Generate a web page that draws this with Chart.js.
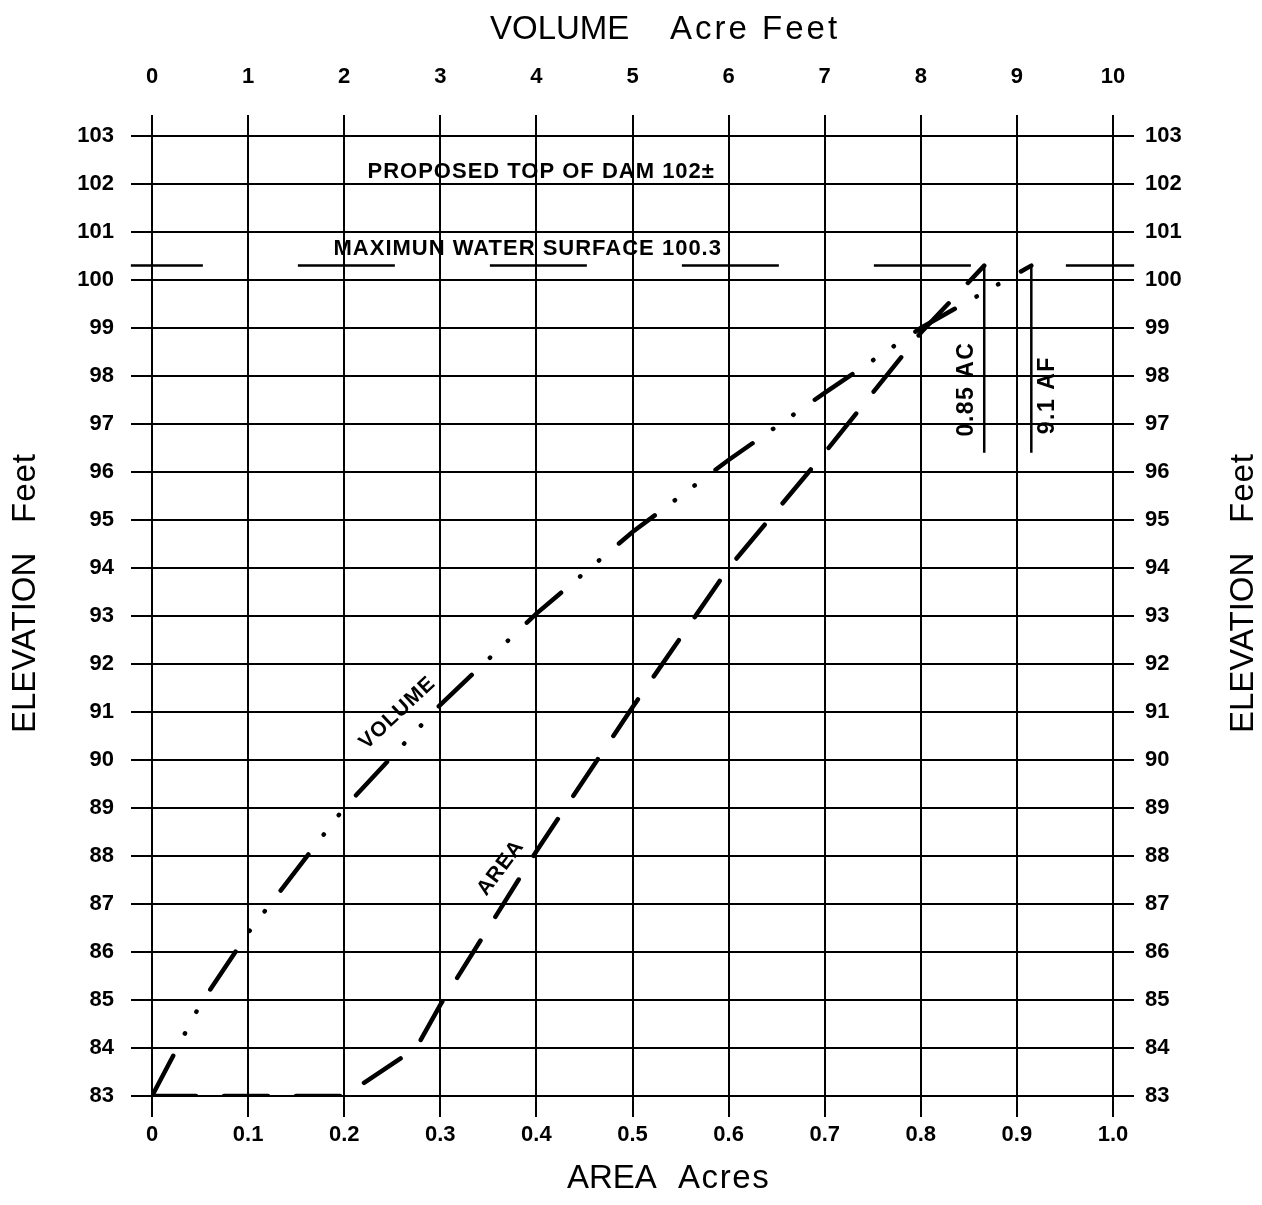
<!DOCTYPE html>
<html>
<head>
<meta charset="utf-8">
<title>Elevation - Area - Volume</title>
<script src="https://cdn.jsdelivr.net/npm/chart.js@4.4.1/dist/chart.umd.min.js"></script>
<style>
  html, body { margin: 0; padding: 0; background: #fff; }
  #wrap { width: 1262px; height: 1205px; position: relative; }
</style>
</head>
<body>
<div id="wrap"><canvas id="curveChart"></canvas></div>
<script>
// area curve: acres vs elevation (ft)
const areaAcres = [0, 0.2, 0.275, 0.3, 0.4, 0.5, 0.6, 0.7, 0.8, 0.866];
const areaElev  = [83, 83, 84, 84.9, 88.1, 91.1, 94.0, 96.4, 98.9, 100.3];

// volume curve: acre feet vs elevation (ft)
const volAcreFt = [0, 0.5, 1, 2, 3, 4, 5, 6, 7, 8, 9.15];
const volElev   = [83, 84.9, 86.4, 89.0, 91.15, 93.05, 94.75, 96.25, 97.65, 99.0, 100.3];

// max water surface and the readouts at that level
const maxWaterSurface = 100.3;
const maxArea = 0.866;     // 0.85 AC
const maxVolume = 9.15;    // 9.1 AF
const readoutBottom = 96.4;

// tick labels
const areaTicks = ['0', '0.1', '0.2', '0.3', '0.4', '0.5', '0.6', '0.7', '0.8', '0.9', '1.0'];
const volumeTicks = ['0', '1', '2', '3', '4', '5', '6', '7', '8', '9', '10'];
const elevTicks = ['83', '84', '85', '86', '87', '88', '89', '90', '91', '92', '93',
                   '94', '95', '96', '97', '98', '99', '100', '101', '102', '103'];

const FONT = '"Liberation Sans", Arial, sans-serif';
const tickFont = { family: FONT, size: 22, weight: 'bold' };

function pts(xs, ys) {
    return xs.map((v, i) => ({ x: v, y: ys[i] }));
}

// texts on the drawing and the axis titles
const notesPlugin = {
    id: 'notes',
    afterDatasetsDraw(chart) {
        const { ctx, scales: { x, y } } = chart;
        const put = (text, ax, ey, size, rot, spacing) => {
            ctx.save();
            ctx.translate(x.getPixelForValue(ax), y.getPixelForValue(ey));
            ctx.rotate(rot * Math.PI / 180);
            ctx.font = 'bold ' + size + 'px ' + FONT;
            ctx.letterSpacing = spacing + 'px';
            ctx.fillStyle = '#000';
            ctx.textAlign = 'center';
            ctx.textBaseline = 'middle';
            ctx.fillText(text, 0, 0);
            ctx.restore();
        };
        put('PROPOSED TOP OF DAM 102±', 0.405, 102.26, 22, 0, 1);
        put('MAXIMUN WATER SURFACE 100.3', 0.391, 100.65, 22, 0, 1);
        put('VOLUME', 0.2555, 90.98, 21, -43, 1);
        put('AREA', 0.363, 87.75, 21, -53, 1);
        put('0.85 AC', 0.848, 97.73, 23, -90, 1.5);
        put('9.1 AF', 0.932, 97.6, 23, -90, 1.5);
    },
    afterDraw(chart) {
        const ctx = chart.ctx;
        const word = (text, px, py, rot, spacing) => {
            ctx.save();
            ctx.translate(px, py);
            ctx.rotate(rot);
            ctx.font = '33px ' + FONT;
            ctx.letterSpacing = spacing + 'px';
            ctx.fillStyle = '#000';
            ctx.textAlign = 'left';
            ctx.textBaseline = 'alphabetic';
            ctx.fillText(text, 0, 0);
            ctx.restore();
        };
        word('VOLUME', 490, 39, 0, 0);
        word('Acre Feet', 670, 39, 0, 3);
        word('AREA', 567, 1188, 0, 0);
        word('Acres', 678, 1188, 0, 1.6);
        word('ELEVATION', 35, 733, -Math.PI / 2, 0);
        word('Feet', 35, 523, -Math.PI / 2, 1);
        word('ELEVATION', 1253, 733, -Math.PI / 2, 0);
        word('Feet', 1253, 523, -Math.PI / 2, 1);
    }
};

function drawChart() {
    const ctx = document.getElementById('curveChart').getContext('2d');
    const gridOpts = { color: '#000', lineWidth: 2, tickLength: 21 };

    new Chart(ctx, {
        type: 'line',
        data: {
            datasets: [{
                label: 'Area',
                data: pts(areaAcres, areaElev),
                xAxisID: 'x',
                yAxisID: 'y',
                borderColor: '#000',
                borderWidth: 4.5,
                borderDash: [44, 28],
                borderCapStyle: 'round',
                pointRadius: 0
            }, {
                label: 'Volume',
                data: pts(volAcreFt, volElev),
                xAxisID: 'x2',
                yAxisID: 'y',
                borderColor: '#000',
                borderWidth: 4.5,
                borderDash: [45.5, 25, 0.3, 24.4, 0.3, 26],
                borderCapStyle: 'round',
                pointRadius: 0
            }, {
                label: 'Area readout',
                data: [{ x: maxArea, y: maxWaterSurface }, { x: maxArea, y: readoutBottom }],
                xAxisID: 'x',
                yAxisID: 'y',
                borderColor: '#000',
                borderWidth: 2.5,
                pointRadius: 0
            }, {
                label: 'Volume readout',
                data: [{ x: maxVolume, y: maxWaterSurface }, { x: maxVolume, y: readoutBottom }],
                xAxisID: 'x2',
                yAxisID: 'y',
                borderColor: '#000',
                borderWidth: 2.5,
                pointRadius: 0
            }, {
                label: 'Maximum water surface',
                data: [{ x: -0.022, y: maxWaterSurface }, { x: 1.022, y: maxWaterSurface }],
                xAxisID: 'x',
                yAxisID: 'y',
                borderColor: '#000',
                borderWidth: 2.5,
                borderDash: [97, 95],
                borderDashOffset: 25,
                pointRadius: 0,
                clip: false
            }]
        },
        options: {
            responsive: true,
            maintainAspectRatio: false,
            animation: false,
            layout: { padding: 0 },
            plugins: {
                legend: { display: false },
                tooltip: { enabled: false }
            },
            scales: {
                x: {
                    type: 'linear',
                    position: 'bottom',
                    min: 0,
                    max: 1,
                    ticks: {
                        stepSize: 0.1,
                        padding: 5,
                        color: '#000',
                        font: tickFont,
                        maxRotation: 0,
                        autoSkip: false,
                        callback: (v, i) => areaTicks[i]
                    },
                    grid: gridOpts,
                    border: { display: false },
                    afterFit: s => { s.height = 109; }
                },
                x2: {
                    type: 'linear',
                    position: 'top',
                    min: 0,
                    max: 10,
                    ticks: {
                        stepSize: 1,
                        padding: 25,
                        color: '#000',
                        font: tickFont,
                        maxRotation: 0,
                        autoSkip: false,
                        callback: (v, i) => volumeTicks[i]
                    },
                    grid: { ...gridOpts, drawOnChartArea: false },
                    border: { display: false },
                    afterFit: s => { s.height = 136; }
                },
                y: {
                    type: 'linear',
                    position: 'left',
                    min: 83,
                    max: 103,
                    ticks: {
                        stepSize: 1,
                        padding: 17,
                        color: '#000',
                        font: tickFont,
                        autoSkip: false,
                        callback: (v, i) => elevTicks[i]
                    },
                    grid: gridOpts,
                    border: { display: false },
                    afterFit: s => { s.width = 152; }
                },
                y2: {
                    type: 'linear',
                    position: 'right',
                    min: 83,
                    max: 103,
                    ticks: {
                        stepSize: 1,
                        padding: 11,
                        color: '#000',
                        font: tickFont,
                        autoSkip: false,
                        callback: (v, i) => elevTicks[i]
                    },
                    grid: { ...gridOpts, drawOnChartArea: false },
                    border: { display: false },
                    afterFit: s => { s.width = 149; }
                }
            }
        },
        plugins: [notesPlugin]
    });
}

document.addEventListener('DOMContentLoaded', drawChart);
</script>
</body>
</html>
